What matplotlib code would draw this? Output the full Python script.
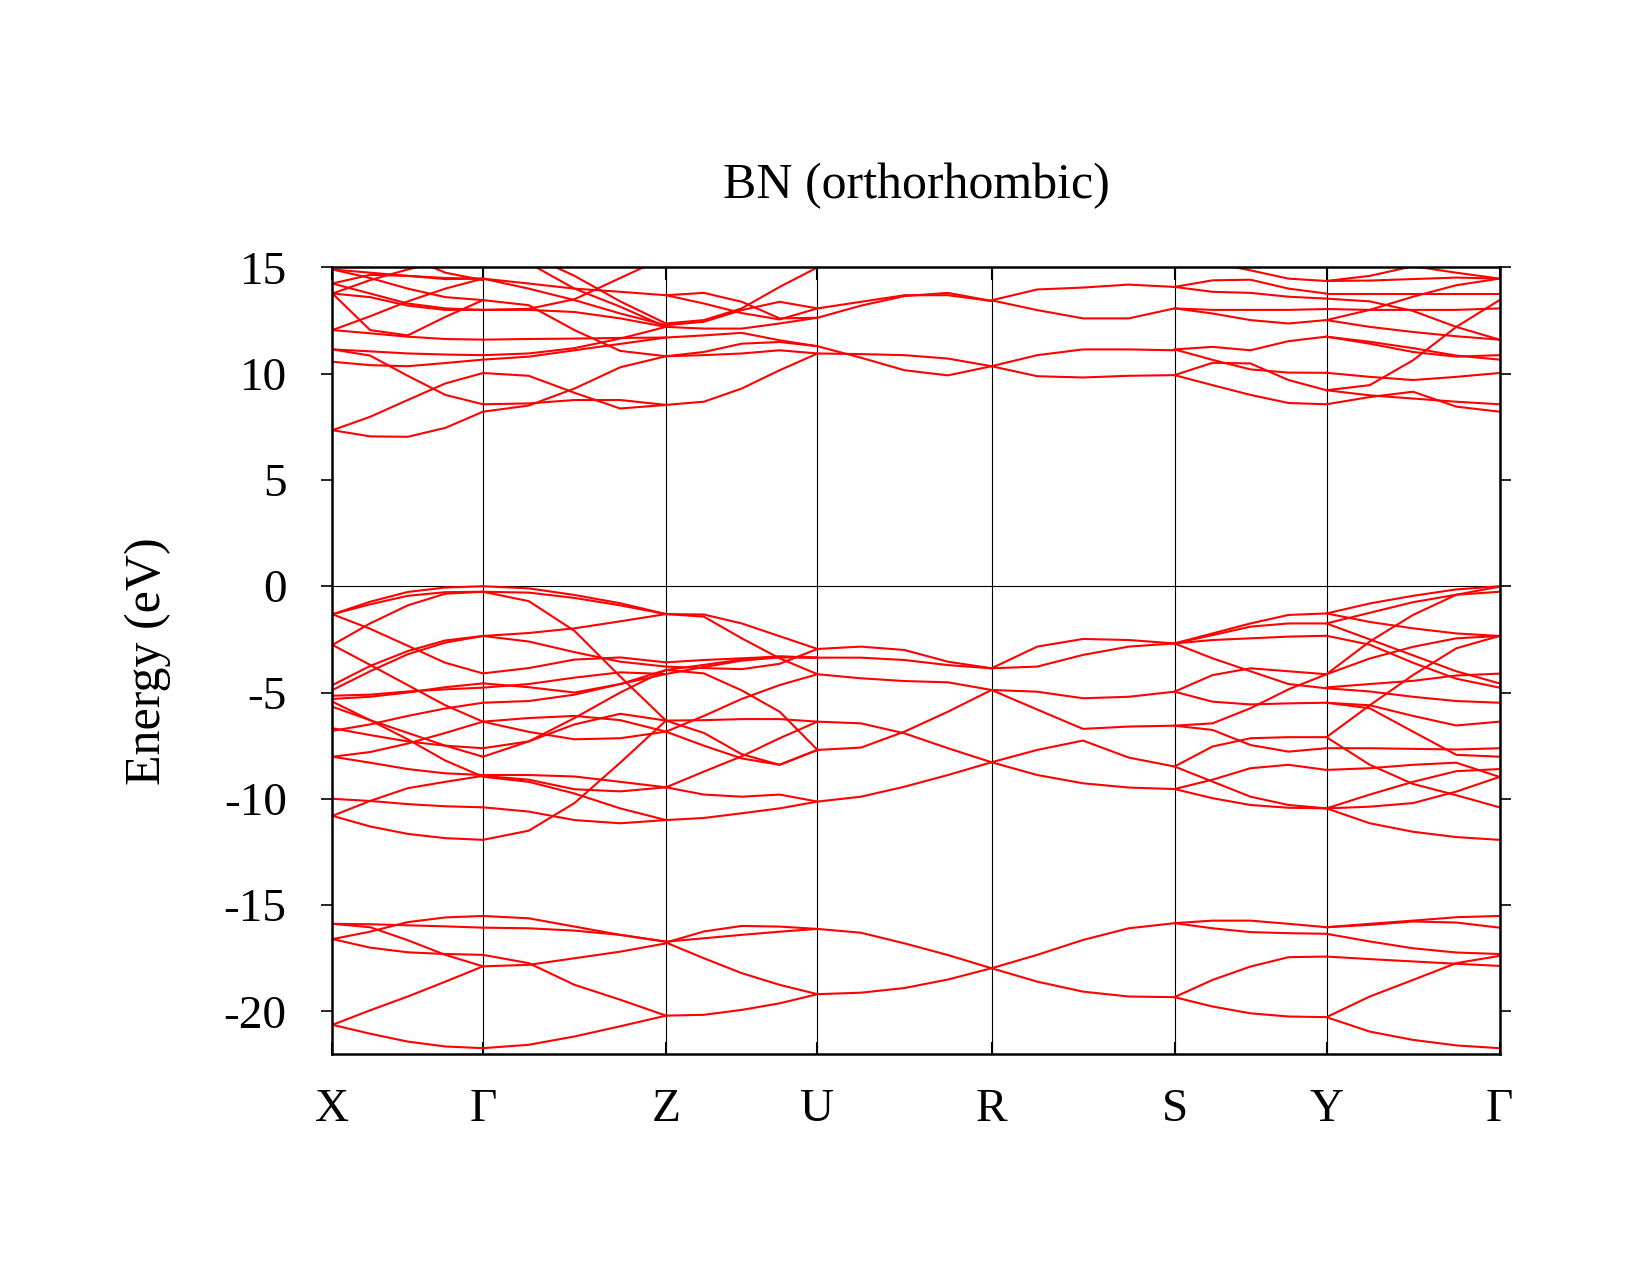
import numpy as np
import matplotlib
matplotlib.use("Agg")
import matplotlib.pyplot as plt

plt.rcParams['font.family'] = ['Liberation Serif', 'DejaVu Serif']
plt.rcParams['axes.unicode_minus'] = False

# ---------------- k-path ----------------
kpoint_labels = ["X", "Γ", "Z", "U", "R", "S", "Y", "Γ"]
segment_lengths = [0.1505, 0.183, 0.1515, 0.174, 0.183, 0.152, 0.173]

# ---------------- band energies (eV), sampled at 0, 1/4, 1/2, 3/4, 1 of each segment ----------------
# X - Gamma
XG_val = [
    [-1.32, -0.73, -0.27, -0.06, 0.0],
    [-1.32, -0.85, -0.45, -0.28, -0.26],
    [-2.76, -1.75, -0.9, -0.35, -0.26],
    [-1.32, -2.0, -2.8, -3.6, -4.1],
    [-2.76, -3.7, -4.65, -5.6, -6.37],
    [-4.65, -3.75, -3.05, -2.55, -2.34],
    [-4.88, -4.0, -3.2, -2.65, -2.34],
    [-5.15, -5.1, -4.95, -4.85, -4.77],
    [-5.3, -5.2, -5.0, -4.75, -4.57],
    [-5.67, -6.3, -6.9, -7.5, -8.02],
    [-5.43, -6.3, -7.2, -8.2, -8.96],
    [-6.68, -7.0, -7.3, -7.5, -7.62],
    [-6.8, -6.5, -6.1, -5.75, -5.48],
    [-8.02, -7.8, -7.4, -6.9, -6.37],
    [-8.02, -8.3, -8.6, -8.8, -8.88],
    [-10.8, -10.1, -9.5, -9.2, -8.92],
    [-10.0, -10.1, -10.25, -10.35, -10.4],
    [-10.8, -11.3, -11.65, -11.85, -11.93],
]
XG_low = [
    [-15.88, -15.9, -15.95, -16.0, -16.06],
    [-16.6, -16.25, -15.8, -15.58, -15.51],
    [-15.88, -16.04, -16.65, -17.34, -17.88],
    [-16.6, -17.0, -17.22, -17.3, -17.34],
    [-20.63, -19.95, -19.3, -18.6, -17.88],
    [-20.63, -21.05, -21.42, -21.65, -21.73],
]
XG_con = [
    [14.9, 14.75, 14.6, 14.5, 14.47],
    [14.24, 14.65, 14.6, 14.45, 14.47],
    [13.77, 12.05, 11.8, 12.67, 13.46],
    [13.77, 13.6, 13.2, 13.0, 13.0],
    [12.05, 12.7, 13.4, 14.0, 14.47],
    [12.05, 11.9, 11.74, 11.63, 11.6],
    [11.14, 11.05, 10.95, 10.9, 10.87],
    [11.14, 10.85, 9.9, 9.0, 8.56],
    [10.56, 10.4, 10.35, 10.5, 10.66],
    [7.34, 7.97, 8.76, 9.54, 10.03],
    [7.34, 7.05, 7.03, 7.45, 8.21],
    [14.9, 14.5, 14.0, 13.6, 13.46],
    [14.24, 13.77, 13.3, 13.07, 13.0],
    [13.77, 14.4, 14.9, 15.3, 15.6],
    [17.0, 16.3, 15.5, 14.75, 14.4],
]

# Gamma - Z
GZ_val = [
    [0.0, -0.1, -0.41, -0.8, -1.31],
    [-0.26, -0.7, -2.1, -4.25, -6.32],
    [-0.26, -0.3, -0.55, -0.9, -1.31],
    [-2.34, -2.2, -1.98, -1.65, -1.31],
    [-2.34, -2.6, -3.1, -3.55, -3.78],
    [-4.1, -3.85, -3.45, -3.35, -3.58],
    [-4.57, -4.75, -5.0, -4.6, -3.94],
    [-4.77, -4.6, -4.3, -4.05, -4.13],
    [-5.48, -5.4, -5.1, -4.6, -4.13],
    [-6.37, -6.85, -7.2, -7.15, -6.84],
    [-6.37, -6.2, -6.1, -6.3, -6.84],
    [-7.62, -7.3, -6.5, -6.0, -6.32],
    [-8.02, -7.3, -6.2, -5.0, -3.94],
    [-11.93, -11.5, -10.2, -8.3, -6.32],
    [-8.96, -9.2, -9.75, -10.45, -11.0],
    [-10.4, -10.6, -11.0, -11.15, -11.0],
    [-8.88, -8.88, -8.95, -9.2, -9.46],
    [-8.92, -9.1, -9.55, -9.65, -9.46],
]
GZ_low = [
    [-15.51, -15.62, -16.01, -16.4, -16.72],
    [-16.06, -16.09, -16.2, -16.4, -16.72],
    [-17.88, -17.81, -17.5, -17.19, -16.8],
    [-17.34, -17.73, -18.75, -19.45, -20.2],
    [-21.73, -21.57, -21.18, -20.7, -20.2],
]
GZ_con = [
    [8.21, 8.5, 9.3, 10.3, 10.82],
    [8.56, 8.6, 8.76, 8.76, 8.53],
    [10.03, 9.9, 9.1, 8.36, 8.53],
    [10.66, 10.8, 11.1, 11.4, 11.7],
    [10.87, 10.95, 11.2, 11.65, 12.2],
    [11.6, 11.63, 11.65, 11.68, 11.7],
    [13.46, 13.22, 12.05, 11.07, 10.82],
    [13.0, 13.05, 13.5, 14.5, 15.5],
    [14.47, 14.24, 14.0, 13.85, 13.69],
    [14.47, 14.0, 13.46, 12.83, 12.28],
    [16.2, 15.2, 14.0, 13.15, 12.2],
    [16.5, 15.6, 14.6, 13.4, 12.36],
    [13.0, 13.0, 12.9, 12.6, 12.2],
]

# Z - U
ZU_val = [
    [-1.31, -1.33, -1.75, -2.35, -2.95],
    [-1.31, -1.43, -2.45, -3.39, -4.14],
    [-3.58, -3.47, -3.39, -3.31, -3.36],
    [-3.78, -3.85, -3.9, -3.65, -2.95],
    [-3.94, -4.1, -4.9, -5.9, -7.7],
    [-3.94, -3.7, -3.45, -3.3, -3.36],
    [-4.13, -3.8, -3.5, -3.35, -3.36],
    [-6.32, -6.3, -6.25, -6.25, -6.37],
    [-6.32, -6.9, -7.9, -8.4, -7.7],
    [-6.84, -7.5, -8.1, -8.4, -7.7],
    [-6.84, -6.1, -5.3, -4.65, -4.14],
    [-9.46, -8.72, -8.0, -7.15, -6.37],
    [-9.46, -9.8, -9.9, -9.8, -10.13],
    [-11.0, -10.9, -10.68, -10.45, -10.13],
]
ZU_low = [
    [-16.76, -16.24, -15.98, -16.01, -16.12],
    [-16.72, -16.56, -16.4, -16.25, -16.12],
    [-16.76, -17.5, -18.2, -18.75, -19.19],
    [-20.2, -20.16, -19.93, -19.62, -19.19],
]
ZU_con = [
    [8.53, 8.68, 9.3, 10.16, 10.95],
    [10.82, 10.87, 10.95, 11.1, 10.95],
    [10.82, 11.02, 11.41, 11.49, 11.29],
    [11.7, 11.8, 11.92, 11.57, 11.29],
    [12.2, 12.12, 12.12, 12.36, 12.63],
    [12.28, 12.44, 12.99, 13.38, 13.07],
    [12.36, 12.52, 13.07, 14.08, 15.0],
    [13.69, 13.8, 13.38, 12.6, 12.63],
    [13.69, 13.3, 12.85, 12.55, 13.07],
]

# U - R
UR_val = [
    [-2.95, -2.84, -3.0, -3.55, -3.86],
    [-3.36, -3.36, -3.47, -3.71, -3.86],
    [-4.14, -4.33, -4.46, -4.52, -4.88],
    [-6.37, -6.45, -6.92, -7.62, -8.28],
    [-7.7, -7.59, -6.84, -5.9, -4.88],
    [-10.13, -9.9, -9.43, -8.88, -8.28],
]
UR_low = [
    [-16.12, -16.3, -16.8, -17.35, -17.97],
    [-19.19, -19.12, -18.9, -18.5, -17.97],
]
UR_con = [
    [13.07, 13.38, 13.69, 13.69, 13.42],
    [12.63, 13.2, 13.65, 13.8, 13.42],
    [11.29, 10.75, 10.16, 9.92, 10.35],
    [10.95, 10.92, 10.87, 10.71, 10.35],
]

# R - S
RS_val = [
    [-3.86, -2.84, -2.48, -2.53, -2.69],
    [-3.86, -3.78, -3.23, -2.84, -2.69],
    [-4.88, -4.96, -5.27, -5.2, -4.96],
    [-4.88, -5.8, -6.71, -6.6, -6.56],
    [-8.28, -7.7, -7.26, -8.06, -8.48],
    [-8.28, -8.88, -9.27, -9.47, -9.54],
]
RS_low = [
    [-17.97, -17.34, -16.64, -16.09, -15.85],
    [-17.97, -18.6, -19.07, -19.3, -19.33],
]
RS_con = [
    [13.45, 13.96, 14.05, 14.19, 14.08],
    [13.45, 12.99, 12.6, 12.6, 13.07],
    [10.35, 10.87, 11.14, 11.14, 11.1],
    [10.35, 9.88, 9.82, 9.9, 9.93],
]

# S - Y
SY_val = [
    [-2.69, -2.22, -1.75, -1.35, -1.28],
    [-2.69, -2.3, -1.9, -1.75, -1.75],
    [-2.69, -2.53, -2.45, -2.37, -2.33],
    [-2.69, -3.39, -4.0, -4.6, -4.8],
    [-4.96, -4.18, -3.86, -4.0, -4.14],
    [-4.96, -5.43, -5.56, -5.51, -5.48],
    [-6.56, -6.76, -7.47, -7.78, -7.62],
    [-6.56, -6.45, -5.74, -4.85, -4.14],
    [-8.48, -7.54, -7.15, -7.1, -7.1],
    [-8.48, -9.19, -9.9, -10.29, -10.45],
    [-9.54, -9.1, -8.56, -8.4, -8.64],
    [-9.54, -9.97, -10.29, -10.42, -10.45],
]
SY_low = [
    [-15.85, -15.73, -15.73, -15.88, -16.04],
    [-15.85, -16.09, -16.27, -16.32, -16.35],
    [-19.33, -18.52, -17.89, -17.45, -17.42],
    [-19.33, -19.77, -20.09, -20.24, -20.27],
]
SY_con = [
    [14.08, 14.39, 14.42, 14.0, 13.77],
    [14.08, 13.85, 13.8, 13.62, 13.53],
    [15.8, 15.2, 14.86, 14.47, 14.36],
    [13.07, 13.0, 13.0, 13.0, 13.04],
    [13.07, 12.83, 12.52, 12.36, 12.52],
    [11.14, 11.26, 11.1, 11.53, 11.74],
    [11.14, 10.65, 10.2, 10.05, 10.04],
    [9.93, 10.51, 10.48, 9.7, 9.22],
    [9.93, 9.46, 9.0, 8.62, 8.56],
]

# Y - Gamma
YG_val = [
    [-1.28, -0.81, -0.45, -0.15, 0.0],
    [-1.75, -1.25, -0.75, -0.4, -0.26],
    [-1.28, -1.68, -1.98, -2.22, -2.34],
    [-1.75, -2.5, -3.25, -4.0, -4.57],
    [-2.33, -2.75, -3.6, -4.35, -4.77],
    [-4.14, -2.6, -1.35, -0.4, -0.02],
    [-4.14, -3.4, -2.85, -2.45, -2.34],
    [-4.76, -4.6, -4.45, -4.2, -4.11],
    [-4.8, -4.95, -5.2, -5.4, -5.48],
    [-5.48, -5.6, -6.1, -6.55, -6.37],
    [-5.48, -5.74, -6.84, -7.93, -8.02],
    [-7.1, -5.6, -4.18, -2.92, -2.34],
    [-7.1, -8.4, -9.3, -9.83, -10.4],
    [-7.62, -7.62, -7.65, -7.68, -7.62],
    [-8.64, -8.56, -8.4, -8.3, -8.97],
    [-10.45, -9.8, -9.2, -8.7, -8.6],
    [-10.45, -10.37, -10.2, -9.66, -8.97],
    [-10.45, -11.15, -11.55, -11.8, -11.93],
]
YG_low = [
    [-16.04, -15.88, -15.73, -15.57, -15.51],
    [-16.04, -15.93, -15.77, -15.82, -16.06],
    [-16.35, -16.71, -17.03, -17.23, -17.3],
    [-17.42, -17.54, -17.65, -17.76, -17.86],
    [-20.27, -19.3, -18.52, -17.73, -17.39],
    [-20.27, -20.95, -21.34, -21.6, -21.73],
]
YG_con = [
    [14.36, 14.6, 15.05, 14.75, 14.47],
    [14.36, 14.38, 14.45, 14.52, 14.47],
    [13.77, 13.77, 13.77, 13.77, 13.77],
    [13.53, 13.4, 12.95, 12.2, 11.6],
    [13.04, 13.0, 13.0, 13.0, 13.07],
    [12.52, 13.0, 13.62, 14.16, 14.47],
    [12.52, 12.2, 11.96, 11.76, 11.6],
    [11.74, 11.41, 11.02, 10.8, 10.87],
    [11.74, 11.5, 11.2, 10.85, 10.66],
    [10.04, 9.85, 9.7, 9.85, 10.03],
    [9.22, 9.46, 10.63, 12.2, 13.46],
    [9.22, 8.98, 8.83, 8.68, 8.56],
    [8.56, 8.9, 9.15, 8.45, 8.21],
]

segments = [
    XG_val + XG_low + XG_con,
    GZ_val + GZ_low + GZ_con,
    ZU_val + ZU_low + ZU_con,
    UR_val + UR_low + UR_con,
    RS_val + RS_low + RS_con,
    SY_val + SY_low + SY_con,
    YG_val + YG_low + YG_con,
]

# ---------------- drawing ----------------
fig = plt.figure(figsize=(16.5, 12.75), dpi=100)
ax = fig.add_axes([0.2015, 0.1734, 0.7073, 0.6169])

nodes = np.concatenate([[0.0], np.cumsum(segment_lengths)])

for i, seg in enumerate(segments):
    for band in seg:
        k = np.linspace(nodes[i], nodes[i + 1], len(band))
        ax.plot(k, band, color='#ff0000', lw=1.5, solid_joinstyle='round',
                solid_capstyle='round', zorder=3)

for xv in nodes[1:-1]:
    ax.axvline(xv, color='black', lw=0.8, zorder=2)
ax.axhline(0.0, color='black', lw=0.8, zorder=2)

ax.set_xlim(nodes[0], nodes[-1])
ax.set_ylim(-22, 15)
ax.set_xticks(nodes)
ax.set_xticklabels(kpoint_labels)
ax.set_yticks(np.arange(-20, 16, 5))

ax.tick_params(axis='y', direction='out', length=8, width=1.2,
               left=True, right=True, labelsize=34, pad=25)
ax.tick_params(axis='x', direction='in', length=9, width=1.5,
               top=True, bottom=True, labelsize=34, pad=25)
for sp in ax.spines.values():
    sp.set_linewidth(1.8)
    sp.set_zorder(4)

ax.set_title("BN (orthorhombic)", fontsize=36, pad=50)
ax.set_ylabel("Energy (eV)", fontsize=36, labelpad=38)

fig.savefig("out.png", dpi=100)
